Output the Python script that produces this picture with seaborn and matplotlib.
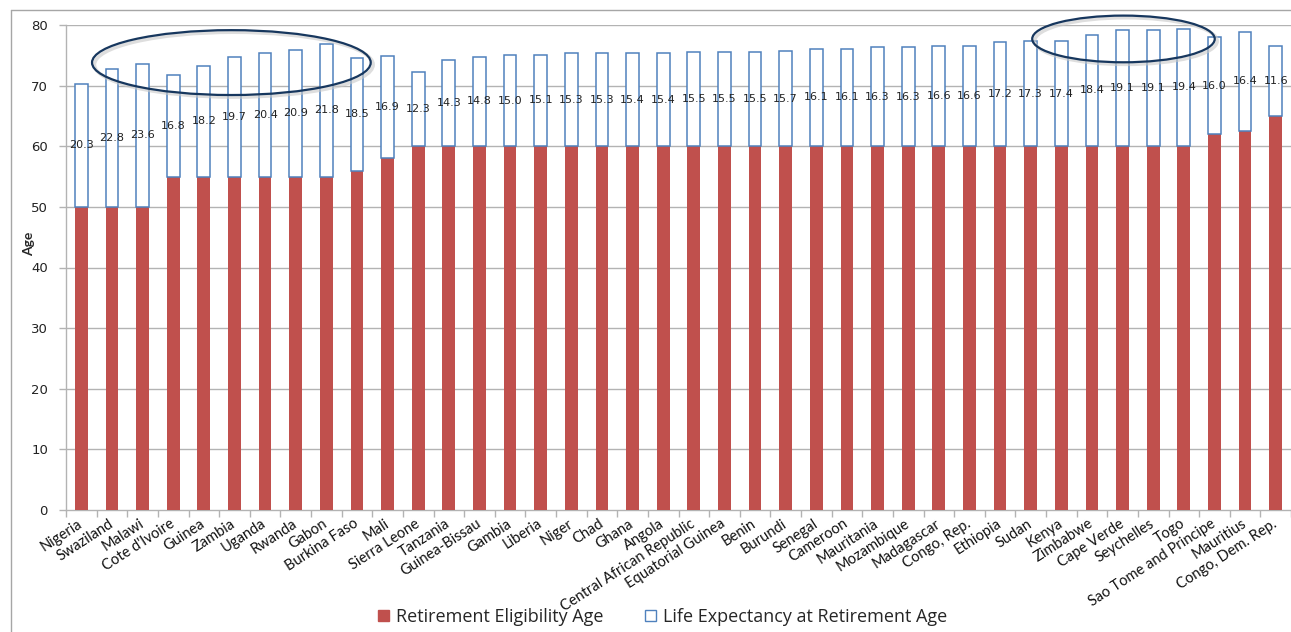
import matplotlib
matplotlib.use("Agg")
import matplotlib.pyplot as plt
from matplotlib.patches import Ellipse
from matplotlib.lines import Line2D
import seaborn as sns
import pandas as pd

countries = [
    "Nigeria", "Swaziland", "Malawi", "Cote d'Ivoire", "Guinea", "Zambia",
    "Uganda", "Rwanda", "Gabon", "Burkina Faso", "Mali", "Sierra Leone",
    "Tanzania", "Guinea-Bissau", "Gambia", "Liberia", "Niger", "Chad",
    "Ghana", "Angola", "Central African Republic", "Equatorial Guinea",
    "Benin", "Burundi", "Senegal", "Cameroon", "Mauritania", "Mozambique",
    "Madagascar", "Congo, Rep.", "Ethiopia", "Sudan", "Kenya", "Zimbabwe",
    "Cape Verde", "Seychelles", "Togo", "Sao Tome and Principe",
    "Mauritius", "Congo, Dem. Rep.",
]
retirement_age = [
    50, 50, 50, 55, 55, 55, 55, 55, 55, 56, 58, 60,
    60, 60, 60, 60, 60, 60, 60, 60, 60, 60, 60, 60,
    60, 60, 60, 60, 60, 60, 60, 60, 60, 60, 60, 60,
    60, 62, 62.5, 65,
]
life_expectancy_after = [
    20.3, 22.8, 23.6, 16.8, 18.2, 19.7, 20.4, 20.9, 21.8, 18.5, 16.9, 12.3,
    14.3, 14.8, 15.0, 15.1, 15.3, 15.3, 15.4, 15.4, 15.5, 15.5, 15.5, 15.7,
    16.1, 16.1, 16.3, 16.3, 16.6, 16.6, 17.2, 17.3, 17.4, 18.4, 19.1, 19.1,
    19.4, 16.0, 16.4, 11.6,
]
y_ticks = [0, 10, 20, 30, 40, 50, 60, 70, 80]

# highlighted country groups: (first index, last index)
highlight_groups = [(1, 9), (32, 36)]

RED = "#C0504D"
BLUE = "#4F81BD"
GRID = "#B3B3B3"
NAVY = "#17375E"

df = pd.DataFrame({
    "country": countries,
    "retire": retirement_age,
    "extra": life_expectancy_after,
})

sns.set_theme(style="white")
plt.rcParams["font.family"] = ["DejaVu Sans"]

fig = plt.figure(figsize=(12.91, 6.32), dpi=100)
ax = fig.add_axes([66 / 1291, 1 - 510 / 632, 1 - 66 / 1291, (510 - 25) / 632])
ax.set_axisbelow(True)

bar_w = 0.42
sns.barplot(data=df, x="country", y="retire", color=RED, width=bar_w,
            saturation=1, edgecolor=RED, linewidth=0, ax=ax)
sns.barplot(data=df, x="country", y="extra", bottom=df["retire"],
            color="white", width=bar_w, saturation=1, edgecolor=BLUE,
            linewidth=1.1, ax=ax)
if ax.get_legend() is not None:
    ax.get_legend().remove()
for cont in ax.containers:
    for p in cont:
        p.set_zorder(3)

# value labels centred in the upper segment
ax.bar_label(ax.containers[1], labels=[f"{v:.1f}" for v in life_expectancy_after],
             label_type="center", fontsize=8, color="#222222", zorder=5)

ax.set_ylim(0, 80)
ax.set_xlim(-0.5, len(countries) - 0.5)
ax.set_yticks(y_ticks)
for yv in y_ticks[1:]:
    ax.axhline(yv, color=GRID, linewidth=1, zorder=0.5)
for side in ["top", "right"]:
    ax.spines[side].set_visible(False)
for side in ["left", "bottom"]:
    ax.spines[side].set_color(GRID)
    ax.spines[side].set_linewidth(1)
    ax.spines[side].set_zorder(0.6)

ax.tick_params(axis="y", which="major", left=True, length=5, width=1,
               color=GRID, pad=8, labelsize=9.5, labelcolor="#222222")
ax.set_xticks(range(len(countries)))
ax.set_xticklabels(countries, rotation=33, ha="right", va="center",
                   rotation_mode="anchor", family="Lato", fontsize=10.5,
                   color="#111111")
ax.tick_params(axis="x", which="major", length=0, pad=9)
ax.set_xticks([i + 0.5 for i in range(-1, len(countries))], minor=True)
ax.tick_params(axis="x", which="minor", bottom=True, length=5, width=1,
               color=GRID)

ax.set_xlabel("")
ax.set_ylabel("Age", fontsize=10, fontweight="bold", family="Lato")
ax.yaxis.set_label_coords(-0.025, 0.548)

# ellipses around the highlighted groups
ellipse_specs = [
    dict(height=10.7, cy=73.8, pad=0.55, shift=-0.1),
    dict(height=7.7, cy=77.7, pad=0.98, shift=0.03),
]
for (i0, i1), spec in zip(highlight_groups, ellipse_specs):
    cx = (i0 + i1) / 2 + spec["shift"]
    w = (i1 - i0) + 2 * spec["pad"]
    shadow = Ellipse((cx + 0.08, spec["cy"] - 0.35), w, spec["height"],
                     fill=False, edgecolor="#C8C8C8", linewidth=2.5,
                     alpha=0.6, zorder=5, clip_on=False)
    ax.add_patch(shadow)
    ell = Ellipse((cx, spec["cy"]), w, spec["height"], fill=False,
                  edgecolor=NAVY, linewidth=1.6, zorder=6, clip_on=False)
    ax.add_patch(ell)

# legend below the plot
handles = [
    plt.Rectangle((0, 0), 1, 1, facecolor=RED, edgecolor=RED),
    plt.Rectangle((0, 0), 1, 1, facecolor="white", edgecolor=BLUE, linewidth=1),
]
fig.legend(handles, ["Retirement Eligibility Age",
                     "Life Expectancy at Retirement Age"],
           loc="center", bbox_to_anchor=(663 / 1291, 1 - 617 / 632), ncol=2,
           frameon=False, prop={"family": "Open Sans", "size": 13},
           handlelength=0.6, handleheight=0.6, handletextpad=0.4,
           columnspacing=2.3)

# outer chart frame
fig.add_artist(Line2D([11 / 1291, 11 / 1291], [0, 1 - 10 / 632],
                      transform=fig.transFigure, color="#A6A6A6", linewidth=1))
fig.add_artist(Line2D([11 / 1291, 1], [1 - 10 / 632, 1 - 10 / 632],
                      transform=fig.transFigure, color="#A6A6A6", linewidth=1))

fig.savefig("out.png", dpi=100, facecolor="white")
